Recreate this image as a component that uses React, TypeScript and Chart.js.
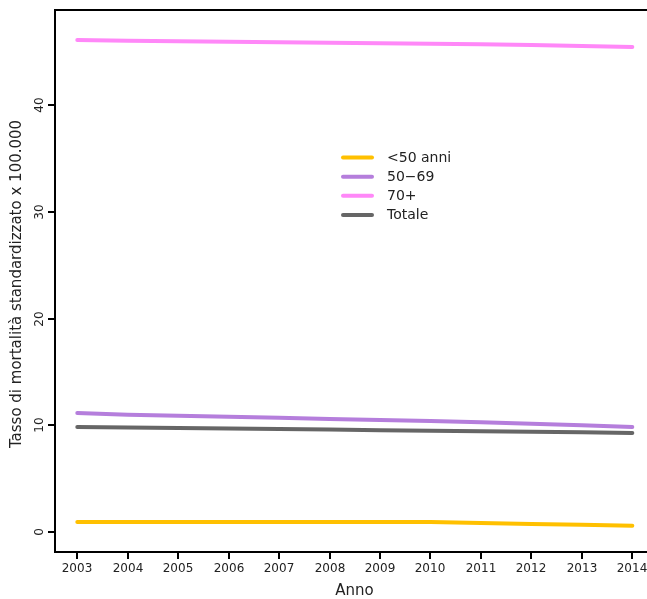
import React, { useEffect, useRef } from "react";
import { Chart, registerables } from "chart.js";

Chart.register(...registerables);

const years = [2003, 2004, 2005, 2006, 2007, 2008, 2009, 2010, 2011, 2012, 2013, 2014];
const under50 = [0.94, 0.94, 0.94, 0.94, 0.94, 0.94, 0.94, 0.94, 0.85, 0.75, 0.68, 0.6];
const age5069 = [11.15, 11.0, 10.9, 10.8, 10.7, 10.6, 10.5, 10.4, 10.3, 10.15, 10.0, 9.85];
const age70plus = [46.1, 46.05, 46.0, 45.95, 45.9, 45.85, 45.8, 45.75, 45.7, 45.65, 45.55, 45.45];
const totale = [9.85, 9.8, 9.75, 9.7, 9.65, 9.6, 9.55, 9.5, 9.45, 9.4, 9.35, 9.28];

const seriesLabels = ["<50 anni", "50\u221269", "70+", "Totale"];
const seriesColors = ["#FFC000", "#B57EDC", "#FF88F8", "#666666"];
const yTicks = [0, 10, 20, 30, 40];
const xTicks = years;
const xTitle = "Anno";
const yTitle = "Tasso di mortalità standardizzato x 100.000";

const FONT = "'DejaVu Sans', sans-serif";

const axesPlugin = {
  id: "rAxes",
  afterDraw(chart: any) {
    const ctx = chart.ctx;
    const a = chart.chartArea;
    const xs = chart.scales.x;
    const ys = chart.scales.y;
    ctx.save();
    ctx.strokeStyle = "#000";
    ctx.lineWidth = 2;
    ctx.lineCap = "butt";
    // box (left, top, bottom)
    ctx.beginPath();
    ctx.moveTo(a.right + 2, a.top);
    ctx.lineTo(a.left, a.top);
    ctx.lineTo(a.left, a.bottom);
    ctx.lineTo(a.right + 2, a.bottom);
    ctx.stroke();
    // y ticks
    ctx.fillStyle = "#222";
    ctx.font = `12px ${FONT}`;
    for (const v of yTicks) {
      const y = Math.round(ys.getPixelForValue(v));
      ctx.beginPath();
      ctx.moveTo(a.left - 7, y);
      ctx.lineTo(a.left, y);
      ctx.stroke();
      ctx.save();
      ctx.translate(40, y);
      ctx.rotate(-Math.PI / 2);
      ctx.textAlign = "center";
      ctx.textBaseline = "middle";
      ctx.fillText(String(v), 0, 0);
      ctx.restore();
    }
    // x ticks
    for (const v of xTicks) {
      const x = Math.round(xs.getPixelForValue(v));
      ctx.beginPath();
      ctx.moveTo(x, a.bottom);
      ctx.lineTo(x, a.bottom + 7);
      ctx.stroke();
      ctx.textAlign = "center";
      ctx.textBaseline = "middle";
      ctx.fillText(String(v), x, a.bottom + 17);
    }
    // titles
    ctx.font = `15px ${FONT}`;
    ctx.textAlign = "center";
    ctx.textBaseline = "middle";
    ctx.fillText(xTitle, (a.left + 654) / 2, 591);
    ctx.save();
    ctx.translate(17, (a.top + a.bottom) / 2 + 3);
    ctx.rotate(-Math.PI / 2);
    ctx.fillText(yTitle, 0, 0);
    ctx.restore();
    // legend
    const rowY = [157.5, 176.7, 195.8, 215];
    ctx.font = `14px ${FONT}`;
    ctx.textAlign = "left";
    seriesLabels.forEach((lab, i) => {
      ctx.strokeStyle = seriesColors[i];
      ctx.lineWidth = 4;
      ctx.lineCap = "round";
      ctx.beginPath();
      ctx.moveTo(343, rowY[i]);
      ctx.lineTo(372, rowY[i]);
      ctx.stroke();
      ctx.fillStyle = "#222";
      ctx.fillText(lab, 387, rowY[i] + 0.5);
    });
    ctx.restore();
  },
};

export default function App() {
  const ref = useRef<HTMLCanvasElement | null>(null);
  useEffect(() => {
    if (!ref.current) return;
    const all = [under50, age5069, age70plus, totale];
    const chart = new Chart(ref.current, {
      type: "line",
      data: {
        datasets: all.map((vals, i) => ({
          label: seriesLabels[i],
          data: years.map((yr, j) => ({ x: yr, y: vals[j] })),
          borderColor: seriesColors[i],
          backgroundColor: seriesColors[i],
          borderWidth: 4,
          borderCapStyle: "round",
          borderJoinStyle: "round",
          pointRadius: 0,
          tension: 0,
          fill: false,
        })),
      },
      options: {
        responsive: false,
        animation: false,
        layout: { padding: { left: 55, top: 10, right: 0, bottom: 47 } },
        plugins: { legend: { display: false }, tooltip: { enabled: false } },
        scales: {
          x: { type: "linear", display: false, min: 2002.558, max: 2014.291 },
          y: { type: "linear", display: false, min: -1.87, max: 48.92 },
        },
      },
      plugins: [axesPlugin],
    });
    return () => chart.destroy();
  }, []);
  return (
    <div style={{ position: "absolute", left: 0, top: 0, width: 647, height: 599, background: "#fff" }}>
      <canvas ref={ref} width={647} height={599} />
    </div>
  );
}
